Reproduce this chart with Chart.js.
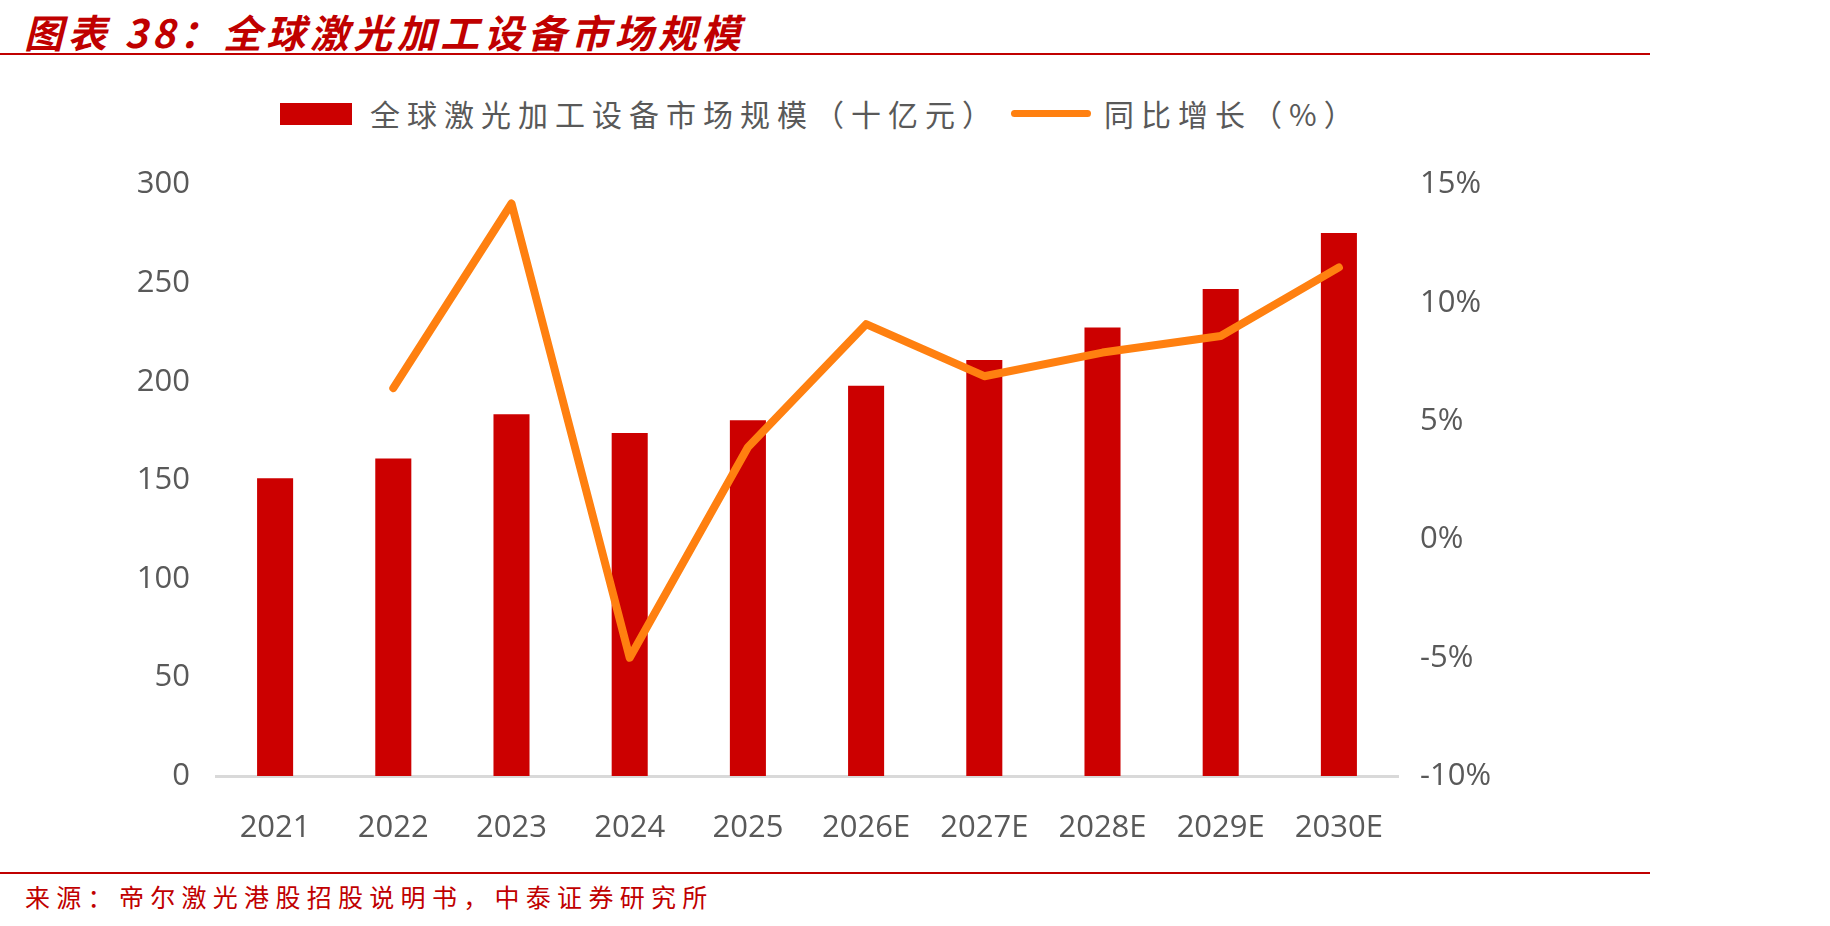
<!DOCTYPE html>
<html>
<head>
<meta charset="utf-8">
<script src="https://cdn.jsdelivr.net/npm/chart.js@4/dist/chart.umd.min.js"></script>
<style>
  body { margin: 0; background: #fff; width: 1830px; height: 926px; position: relative; overflow: hidden; }
  .title { position: absolute; left: 24px; top: 3px; font: italic 700 39px "Noto Sans CJK SC", sans-serif; color: #c00000; letter-spacing: 4.5px; white-space: nowrap; }
  .rule { position: absolute; left: 0; width: 1650px; height: 2px; background: #c00000; }
  .source { position: absolute; left: 25px; top: 878px; font: 400 25px "Noto Sans CJK SC", sans-serif; color: #c00000; letter-spacing: 6.3px; white-space: nowrap; }
  .legend { position: absolute; top: 93px; height: 40px; font: 400 30px "Noto Sans CJK SC", sans-serif; color: #595959; letter-spacing: 7px; white-space: nowrap; line-height: 40px; }
  #chartBox { position: absolute; left: 0; top: 140px; }
</style>
</head>
<body>
<div class="title">图表 38：全球激光加工设备市场规模</div>
<div class="rule" style="top:53px"></div>

<div style="position:absolute;left:280px;top:103px;width:72px;height:22px;background:#cc0000"></div>
<div class="legend" style="left:370px">全球激光加工设备市场规模（十亿元）</div>
<div style="position:absolute;left:1011px;top:110px;width:80px;height:7px;border-radius:4px;background:#ff8010"></div>
<div class="legend" style="left:1104px">同比增长（%）</div>

<div id="chartBox"><canvas id="marketChart" width="1650" height="720"></canvas></div>

<div class="rule" style="top:872px"></div>
<div class="source">来源：帝尔激光港股招股说明书，中泰证券研究所</div>

<script>
// years
let years = ['2021', '2022', '2023', '2024', '2025', '2026E', '2027E', '2028E', '2029E', '2030E'];
// market size, bn yuan
let marketSize = [151, 161, 183.5, 174, 180.5, 198, 211, 227.5, 247, 275.5];
// yoy growth, %
let growth = [null, 6.4, 14.2, -5.0, 3.9, 9.1, 6.9, 7.9, 8.6, 11.5];
// axis ticks
let leftTicks = [0, 300, 50];
let rightTicks = [-10, 15, 5];

let tickFont = { family: '"Open Sans", sans-serif', size: 31 };
let gray = '#595959';

let ctx = document.getElementById('marketChart');
new Chart(ctx, {
    type: 'bar',
    data: {
        labels: years,
        datasets: [
            {
                type: 'line',
                label: '同比增长（%）',
                data: growth,
                yAxisID: 'y1',
                borderColor: '#ff8010',
                backgroundColor: '#ff8010',
                borderWidth: 8,
                borderCapStyle: 'round',
                borderJoinStyle: 'round',
                pointRadius: 0,
                tension: 0,
                order: 0
            },
            {
                type: 'bar',
                label: '全球激光加工设备市场规模（十亿元）',
                data: marketSize,
                yAxisID: 'y',
                backgroundColor: '#cc0000',
                categoryPercentage: 1,
                barPercentage: 0.305,
                order: 1
            }
        ]
    },
    options: {
        responsive: false,
        animation: false,
        layout: { padding: { top: 44, left: 0, right: 0, bottom: 0 } },
        plugins: {
            legend: { display: false },
            title: { display: false },
            tooltip: { enabled: false }
        },
        scales: {
            x: {
                grid: { display: false },
                border: { display: true, color: '#d9d9d9', width: 3 },
                ticks: { font: tickFont, color: gray, padding: 26, maxRotation: 0 },
                afterFit: function(scale){ scale.height = 84; }
            },
            y: {
                position: 'left',
                min: leftTicks[0],
                max: leftTicks[1],
                ticks: { stepSize: leftTicks[2], font: tickFont, color: gray, padding: 26 },
                grid: { display: false, drawTicks: false },
                border: { display: false },
                afterFit: function(scale){ scale.width = 216; }
            },
            y1: {
                position: 'right',
                min: rightTicks[0],
                max: rightTicks[1],
                ticks: {
                    stepSize: rightTicks[2],
                    font: tickFont,
                    color: gray,
                    padding: 22,
                    callback: function(v){ return v + '%'; }
                },
                grid: { display: false, drawTicks: false },
                border: { display: false },
                afterFit: function(scale){ scale.width = 252; }
            }
        }
    }
});
</script>
</body>
</html>
